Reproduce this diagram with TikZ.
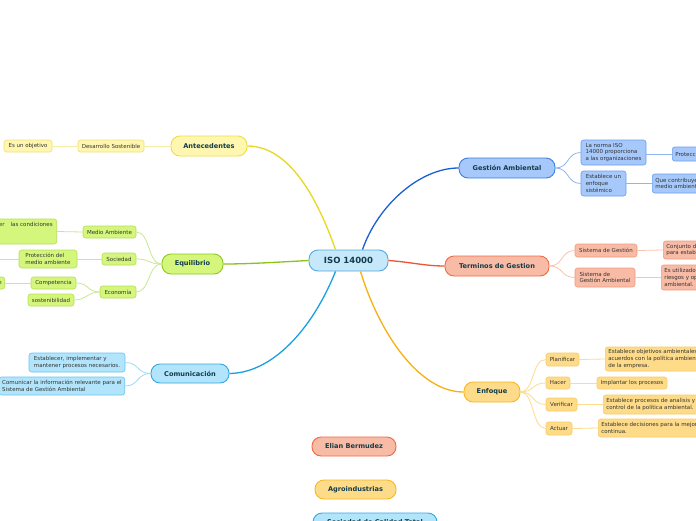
\documentclass[tikz,border=0pt]{standalone}
\usepackage{fontspec}
\setmainfont{DejaVu Sans}
\definecolor{txtm}{HTML}{123C48}
\definecolor{txts}{HTML}{333333}
\definecolor{isoF}{HTML}{C5E8FB}\definecolor{isoD}{HTML}{55A9DD}
\definecolor{bF}{HTML}{A6C8FA}\definecolor{bD}{HTML}{3D7FE0}\definecolor{bL}{HTML}{1B5FD0}\definecolor{bS}{HTML}{8FB4EE}\definecolor{bSD}{HTML}{6A9EF0}
\definecolor{sF}{HTML}{F8BBA6}\definecolor{sD}{HTML}{F06A45}\definecolor{sL}{HTML}{EE5530}\definecolor{sS}{HTML}{F8C4AE}\definecolor{sSD}{HTML}{F29A80}
\definecolor{oF}{HTML}{FEDB88}\definecolor{oD}{HTML}{F7B824}\definecolor{oL}{HTML}{F5B111}\definecolor{oS}{HTML}{FDDC8C}\definecolor{oSD}{HTML}{F9CC68}
\definecolor{yF}{HTML}{FFF6B0}\definecolor{yD}{HTML}{ECE04A}\definecolor{yL}{HTML}{E8D820}\definecolor{yS}{HTML}{F5EDA6}\definecolor{ySD}{HTML}{F2E07A}
\definecolor{gF}{HTML}{D5F67C}\definecolor{gD}{HTML}{8EC820}\definecolor{gL}{HTML}{8CC21A}\definecolor{gS}{HTML}{C8E890}\definecolor{gSD}{HTML}{B5E055}
\definecolor{cF}{HTML}{B2E5FB}\definecolor{cD}{HTML}{35A8E0}\definecolor{cL}{HTML}{1AA0E0}\definecolor{cS}{HTML}{A2D9F2}\definecolor{cSD}{HTML}{6CC4EE}
\tikzset{
  mainbox/.style 2 args={draw=#2, fill=#1, line width=0.9pt, rounded corners=9pt, text=txtm, font=\fontsize{6.6}{8}\selectfont\bfseries, inner sep=0pt},
  subbox/.style 2 args={draw=#2, fill=#1, line width=0.6pt, rounded corners=2.5pt, text=txts, font=\fontsize{5.5}{6.6}\selectfont, inner xsep=3pt, inner ysep=1pt, align=left},
  mline/.style={line width=1.3pt},
  sline/.style={line width=0.8pt},
}
\begin{document}
\begin{tikzpicture}[x=1pt,y=-1pt]
\useasboundingbox (0,0) rectangle (696,520);
\clip (0,0) rectangle (696,520);
\fill[white] (0,0) rectangle (696,520);

% ---------- main nodes ----------
\node[mainbox={isoF}{isoD}, minimum width=79pt, minimum height=21pt, font=\fontsize{8.5}{10}\selectfont\bfseries] (iso) at (348.5,260.5) {ISO 14000};
\node[mainbox={bF}{bD}, minimum width=96pt, minimum height=20pt] (ga) at (507,168) {Gestión Ambiental};
\node[mainbox={sF}{sD}, minimum width=104pt, minimum height=20pt] (tg) at (497,266) {Terminos de Gestion};
\node[mainbox={oF}{oD}, minimum width=56pt, minimum height=20pt] (enf) at (492,392) {Enfoque};
\node[mainbox={yF}{yD}, minimum width=76pt, minimum height=20pt] (ant) at (209,146) {Antecedentes};
\node[mainbox={gF}{gD}, minimum width=61pt, minimum height=20pt] (eq) at (192.5,264) {Equilibrio};
\node[mainbox={cF}{cD}, minimum width=78pt, minimum height=19pt] (com) at (190,373.5) {Comunicación};
\node[mainbox={sF}{sD}, minimum width=84pt, minimum height=19pt] (elian) at (354,446.5) {Elian Bermudez};
\node[mainbox={oF}{oD}, minimum width=81pt, minimum height=19pt] (agro) at (355.5,489.5) {Agroindustrias};
\node[mainbox={cF}{cD}, minimum width=124pt, minimum height=19pt] (third) at (375,522.5) {Sociedad de Calidad Total};

% ---------- main connectors ----------
\draw[mline, bL] ([xshift=14pt]iso.north) .. controls (378,205) and (420,168) .. (ga.west);
\draw[mline, sL] (iso.east) .. controls (410,262) and (425,266) .. (tg.west);
\draw[mline, oL] ([xshift=12pt]iso.south) .. controls (380,335) and (420,392) .. (enf.west);
\draw[mline, yL] ([xshift=-13pt]iso.north) .. controls (318,200) and (290,146) .. (ant.east);
\draw[mline, gL] (iso.west) .. controls (280,262) and (250,264) .. (eq.east);
\draw[mline, cL] ([xshift=-13pt]iso.south) .. controls (312,330) and (272,373) .. (com.east);

% ---------- Gestión Ambiental ----------
\node[subbox={bF}{bSD}, minimum width=65pt, minimum height=25pt] (ga1) at (613.5,152.5) {La norma ISO\\14000 proporciona\\a las organizaciones};
\node[subbox={bF}{bSD}, minimum width=45pt, minimum height=25pt] (ga2) at (603.5,183.5) {Establece un\\enfoque\\sistémico};
\node[subbox={bF}{bSD}, anchor=west, minimum height=14pt] (ga1a) at (672,154) {Protección ambiental};
\node[subbox={bF}{bSD}, anchor=west, minimum height=19pt] (ga2a) at (652,183.5) {Que contribuye a la protección del\\medio ambiente.};
\draw[sline, bS] (ga.east) .. controls +(14,0) and +(-14,0) .. (ga1.west);
\draw[sline, bS] (ga.east) .. controls +(14,0) and +(-14,0) .. (ga2.west);
\draw[sline, bS] (ga1.east |- ga1a.west) -- (ga1a.west);
\draw[sline, bS] (ga2.east) -- (ga2a.west);

% ---------- Terminos de Gestion ----------
\node[subbox={sF}{sSD}, minimum width=62pt, minimum height=13pt] (tg1) at (606,250.5) {Sistema de Gestión};
\node[subbox={sF}{sSD}, minimum width=60pt, minimum height=19pt] (tg2) at (605,277.5) {Sistema de\\Gestión Ambiental};
\node[subbox={sF}{sSD}, anchor=west, minimum height=18pt] (tg1a) at (663,250) {Conjunto de elementos\\para establecer políticas};
\node[subbox={sF}{sSD}, anchor=west, minimum height=25pt] (tg2a) at (661,277.5) {Es utilizado para gestionar\\riesgos y oportunidades\\ambiental.};
\draw[sline, sS] (tg.east) .. controls +(14,0) and +(-14,0) .. (tg1.west);
\draw[sline, sS] (tg.east) .. controls +(14,0) and +(-14,0) .. (tg2.west);
\draw[sline, sS] (tg1.east) -- (tg1a.west);
\draw[sline, sS] (tg2.east) -- (tg2a.west);

% ---------- Enfoque ----------
\node[subbox={oF}{oSD}, minimum width=33pt, minimum height=13pt] (pl) at (562.5,359.5) {Planificar};
\node[subbox={oF}{oSD}, minimum width=24pt, minimum height=12pt] (ha) at (558,383) {Hacer};
\node[subbox={oF}{oSD}, minimum width=31pt, minimum height=13pt] (ve) at (561.5,404.5) {Verificar};
\node[subbox={oF}{oSD}, minimum width=26pt, minimum height=13pt] (ac) at (559,428.5) {Actuar};
\node[subbox={oF}{oSD}, anchor=west, minimum height=24pt] (pla) at (605,359) {Establece objetivos ambientales de\\acuerdos con la política ambiental\\de la empresa.};
\node[subbox={oF}{oSD}, minimum width=70pt, minimum height=12pt] (haa) at (632,383) {Implantar los procesos};
\node[subbox={oF}{oSD}, anchor=west, minimum height=19pt] (vea) at (603,404.5) {Establece procesos de analisis y\\control de la política ambiental.};
\node[subbox={oF}{oSD}, anchor=west, minimum height=18pt] (aca) at (598,428) {Establece decisiones para la mejora\\continua.};
\foreach \c in {pl,ha,ve,ac}
  \draw[sline, oS] (enf.east) .. controls +(14,0) and +(-14,0) .. (\c.west);
\draw[sline, oS] (pl.east) -- (pla.west);
\draw[sline, oS] (ha.east) -- (haa.west);
\draw[sline, oS] (ve.east) -- (vea.west);
\draw[sline, oS] (ac.east) -- (aca.west);

% ---------- Antecedentes ----------
\node[subbox={yF}{ySD}, minimum width=66pt, minimum height=12pt] (ant1) at (111,146) {Desarrollo Sostenible};
\node[subbox={yF}{ySD}, minimum width=48pt, minimum height=12pt] (ant2) at (28,146) {Es un objetivo};
\draw[sline, yS] (ant.west) -- (ant1.east);
\draw[sline, yS] (ant1.west) -- (ant2.east);

% ---------- Equilibrio ----------
\node[subbox={gF}{gSD}, minimum width=53pt, minimum height=12pt] (eq1) at (109.5,232) {Medio Ambiente};
\node[subbox={gF}{gSD}, anchor=east, minimum height=25pt, inner xsep=4pt] (eq1a) at (57,231.5) {Busca mantener\hspace{6pt}las condiciones\\ambientales\\para la vida};
\node[subbox={gF}{gSD}, minimum width=34pt, minimum height=12pt] (eq2) at (119,259) {Sociedad};
\node[subbox={gF}{gSD}, minimum width=58pt, minimum height=18pt] (eq2a) at (48,259) {Protección del\\medio ambiente};
\coordinate (eq2out) at (-10,259);
\node[subbox={gF}{gSD}, minimum width=36pt, minimum height=12pt] (eq3) at (118,292) {Economía};
\node[subbox={gF}{gSD}, minimum width=45pt, minimum height=12pt] (eq3a) at (53.5,283) {Competencia};
\node[subbox={gF}{gSD}, minimum width=46pt, minimum height=12pt] (eq3b) at (51,300) {sostenibilidad};
\node[subbox={gF}{gSD}, anchor=east, minimum height=12pt] (eq3aa) at (5,283) {Ventaja competitiva sostenible};
\draw[sline, gS] (eq.west) .. controls +(-14,0) and +(14,0) .. (eq1.east);
\draw[sline, gS] (eq.west) .. controls +(-14,0) and +(14,0) .. (eq2.east);
\draw[sline, gS] (eq.west) .. controls +(-14,0) and +(14,0) .. (eq3.east);
\draw[sline, gS] (eq1.west) -- (eq1a.east);
\draw[sline, gS] (eq2.west) -- (eq2a.east);
\draw[sline, gS] (eq2a.west) -- (eq2out);
\draw[sline, gS] (eq3.west) .. controls +(-12,0) and +(12,0) .. (eq3a.east);
\draw[sline, gS] (eq3.west) .. controls +(-12,0) and +(12,0) .. (eq3b.east);
\draw[sline, gS] (eq3a.west) -- (eq3aa.east);

% ---------- Comunicación ----------
\node[subbox={cF}{cSD}, minimum width=96pt, minimum height=19pt] (com1) at (77,362.5) {Establecer, implementar y\\mantener procesos necesarios.};
\node[subbox={cF}{cSD}, anchor=east, minimum height=18pt] (com2) at (125,386) {Comunicar la información relevante para el\\Sistema de Gestión Ambiental};
\draw[sline, cS] (com.west) .. controls +(-14,0) and +(14,0) .. (com1.east);
\draw[sline, cS] (com.west) .. controls +(-14,0) and +(14,0) .. (com2.east);
\end{tikzpicture}
\end{document}
